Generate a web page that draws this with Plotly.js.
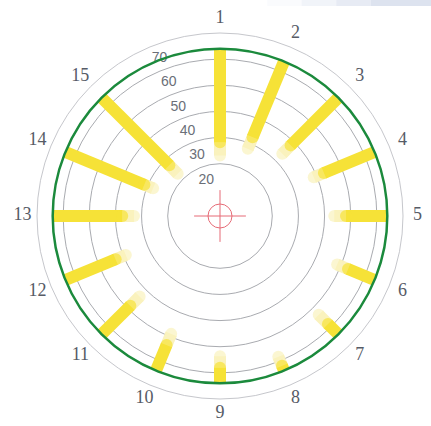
<!DOCTYPE html>
<html>
<head>
<meta charset="utf-8">
<script src="https://cdn.plot.ly/plotly-3.0.1.min.js"></script>
<style>html,body{margin:0;padding:0;background:#fff;}#chart{width:431px;height:426px;}</style>
</head>
<body>
<div id="chart"></div>
<script>
// ---- data ----
const positionLabels = ['1','2','3','4','5','6','7','8','9','10','11','12','13','14','15'];
const slotCount = 16; // 15 positions on a 16-slot dial (one slot empty)
const radialTicks = [20, 30, 40, 50, 60];
const radialLabels = [20, 30, 40, 50, 60, 70];
const fadedStart = [23.1, 27.8, 33.7, 38.8, 43.7, 48.5, 53.4, 58.3, 53.6, 48.8, 43.5, 39.0, 32.9, 27.7, 22.9];
const solidStart = [28.2, 32.6, 38.2, 43.0, 48.2, 53.0, 58.4, 62.0, 58.0, 53.4, 48.5, 43.2, 37.4, 31.3, 27.4];
const limitValue = 64;   // green ring
const radialMax = 70;    // outer dial ring

// ---- build ----
const rangeMax = radialMax * 1.1;           // room for the position labels
const pxPerUnit = 183 / radialMax;          // outer ring radius 183 px
const Rpx = rangeMax * pxPerUnit;
const cx = 220, cy = 216;
const step = 360 / slotCount;
const thetas = positionLabels.map((_, i) => i * step);

const fr = [], ft = [], fs = [];
const sr = [], st = [], ss = [];
positionLabels.forEach((_, i) => {
  fr.push(fadedStart[i], solidStart[i], null);
  ft.push(thetas[i], thetas[i], null);
  fs.push(12, 0, 0);
  sr.push(solidStart[i], limitValue, null);
  st.push(thetas[i], thetas[i], null);
  ss.push(12, 0, 0);
});

const YEL = '#f6e237';
const PALE = '#faf2bd';
const RED = '#e66b76';

const traces = [
  {type:'scatterpolar', subplot:'polar', r: fr, theta: ft, mode:'lines+markers',
   line:{color:PALE, width:12}, marker:{color:PALE, size:fs, line:{width:0}},
   connectgaps:false, hoverinfo:'skip'},
  {type:'scatterpolar', subplot:'polar', r: sr, theta: st, mode:'lines+markers',
   line:{color:YEL, width:12}, marker:{color:YEL, size:ss, line:{width:0}},
   connectgaps:false, hoverinfo:'skip'},
  {type:'scatterpolar', subplot:'polar', r: radialLabels.map(t => t - 5.4), theta: radialLabels.map(() => 339),
   mode:'text', text: radialLabels.map(String),
   textfont:{family:'Liberation Sans, Arial, sans-serif', size:14, color:'#6b6f78'}, hoverinfo:'skip'},
  // position labels just outside the dial
  {type:'scatterpolar', subplot:'polar', r: thetas.map(() => radialMax + 14.5 / pxPerUnit), theta: thetas,
   mode:'text', text: positionLabels, cliponaxis:false,
   textfont:{family:'Liberation Serif, Times New Roman, serif', size:18, color:'#565b66'}, hoverinfo:'skip'},
  {type:'scatterpolar', subplot:'polar', r:[0], theta:[0], mode:'markers',
   marker:{symbol:'circle-open', size:24, color:RED, line:{width:1, color:RED}}, hoverinfo:'skip'},
  {type:'scatterpolar', subplot:'polar', r:[0], theta:[0], mode:'markers',
   marker:{symbol:'cross-thin-open', size:37, color:RED, line:{width:1, color:RED}}, hoverinfo:'skip'},
  // invisible traces to activate overlay subplots
  {type:'scatterpolar', subplot:'polar2', r:[0], theta:[0], mode:'markers', marker:{size:0, opacity:0}, hoverinfo:'skip'},
  {type:'scatterpolar', subplot:'polar3', r:[0], theta:[0], mode:'markers', marker:{size:0, opacity:0}, hoverinfo:'skip'}
];

const domain = {x:[(cx - Rpx)/431, (cx + Rpx)/431], y:[1 - (cy + Rpx)/426, 1 - (cy - Rpx)/426]};

// faint screenshot band at top right
const band = [];
const bandSteps = [[0.62,0.70,0.15],[0.70,0.78,0.4],[0.78,0.86,0.7],[0.86,1.0,1.0]];
bandSteps.forEach(b => band.push({type:'rect', xref:'paper', yref:'paper', x0:b[0], x1:b[1],
  y0:1 - 6/426, y1:1, fillcolor:'#dde3ef', opacity:b[2], line:{width:0}, layer:'below'}));

function ringPolar(vals, color, width) {
  return {
    domain: domain,
    bgcolor:'rgba(0,0,0,0)',
    radialaxis: {range:[0, rangeMax], tickmode:'array', tickvals: vals,
      showticklabels:false, ticks:'', showline:false, gridcolor:color, gridwidth:width},
    angularaxis: {rotation:90, direction:'clockwise', thetaunit:'degrees',
      showgrid:false, showline:false, showticklabels:false, ticks:''}
  };
}

const layout = {
  width: 431, height: 426,
  margin: {l:0, r:0, t:0, b:0},
  paper_bgcolor:'#fff',
  showlegend:false,
  shapes: band,
  polar: ringPolar(radialTicks, '#a9abb0', 1),
  polar2: ringPolar([radialMax], '#c6c7cc', 1),
  polar3: ringPolar([limitValue], '#1b8a3c', 2.5)
};

Plotly.newPlot('chart', traces, layout, {staticPlot:true, displayModeBar:false});
</script>
</body>
</html>
